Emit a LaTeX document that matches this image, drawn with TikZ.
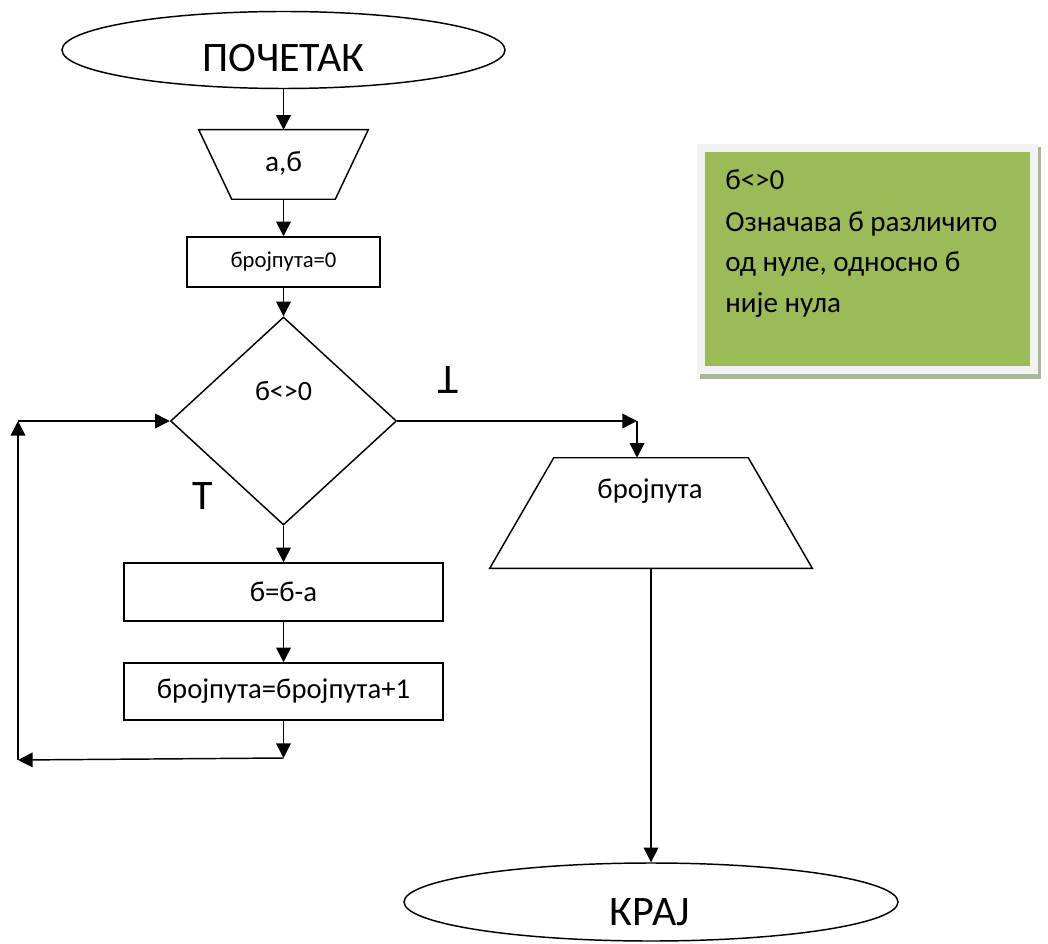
\documentclass[tikz,border=0pt]{standalone}
\usepackage{fontspec}
\setmainfont{Carlito}
\usetikzlibrary{shapes.geometric,arrows.meta,calc}
\definecolor{notegreen}{RGB}{155,187,89}
\definecolor{noteframe}{RGB}{242,242,242}
\definecolor{noteshadow}{RGB}{170,182,152}
\begin{document}
\begin{tikzpicture}[x=0.75pt,y=-0.75pt,
  outline/.style={draw=black, line width=1.1pt},
  arr/.style={line width=1.1pt, -{Triangle[length=11pt,width=11pt]}},
  term/.style={ellipse, outline, inner sep=0pt},
  procbox/.style={rectangle, outline, inner sep=0pt},
  decision/.style={diamond, outline, inner sep=0pt},
  frame/.style={rectangle, inner sep=0pt},
  bigtxt/.style={inner sep=0pt, font=\fontsize{31.5pt}{36pt}\selectfont},
  midtxt/.style={inner sep=0pt, font=\fontsize{21.5pt}{26pt}\selectfont},
  smalltxt/.style={inner sep=0pt, font=\fontsize{17pt}{20pt}\selectfont},
  notetxt/.style={inner sep=0pt, anchor=base west, font=\fontsize{21.8pt}{26pt}\selectfont}]
\useasboundingbox (0,0) rectangle (1048,944);

% explanatory note
\fill[noteshadow] (700,147) rectangle (1041,379);
\fill[noteframe] (697,144) rectangle (1038,374);
\fill[notegreen] (705,152) rectangle (1030,366);
\node[notetxt] (note1) at (725,190) {б<>0};
\node[notetxt] (note2) at (725,232) {Означава б различито};
\node[notetxt] (note3) at (725,272) {од нуле, односно б};
\node[notetxt] (note4) at (725,313) {није нула};

% start
\node[term, minimum width=332.25pt, minimum height=57.75pt] (start) at (283.5,50) {};
\node[bigtxt, anchor=base] (startlbl) at (283.5,72) {ПОЧЕТАК};

% input
\node[frame, minimum width=126.75pt, minimum height=51.75pt] (in) at (283.5,164.5) {};
\draw[outline] (in.north west) -- (in.north east) -- ([xshift=-24.75pt]in.south east)
  -- ([xshift=24.75pt]in.south west) -- cycle;
\node[inner sep=0pt, anchor=base, font=\fontsize{22pt}{26pt}\selectfont] (inlbl) at (283.5,172) {а,б};

% counter init
\node[procbox, smalltxt, minimum width=144.75pt, minimum height=37.5pt] (init) at (283.5,262) {бројпута=0};

% condition
\node[decision, minimum width=169.5pt, minimum height=156pt] (test) at (283.5,421) {};
\node[inner sep=0pt, anchor=base, font=\fontsize{21pt}{25pt}\selectfont] (testlbl) at (283.5,401) {б<>0};
\node[bigtxt, anchor=base] (yes) at (203,509) {Т};
\node[bigtxt] (no) at (448.5,380) {\rotatebox{180}{Т}};

% loop body
\node[procbox, midtxt, minimum width=239.25pt, minimum height=43.5pt] (dec) at (283.5,592) {б=б-а};
\node[procbox, midtxt, minimum width=239.25pt, minimum height=42.75pt] (inc) at (283.5,691.5) {бројпута=бројпута+1};

% output
\node[frame, minimum width=241.5pt, minimum height=82.5pt] (out) at (651,513) {};
\draw[outline] (out.south west) -- (out.south east) -- ([xshift=-48pt]out.north east)
  -- ([xshift=48pt]out.north west) -- cycle;
\node[midtxt, anchor=base] (outlbl) at (650,498) {бројпута};

% end
\node[term, minimum width=370.5pt, minimum height=58.5pt] (end) at (651,902) {};
\node[bigtxt, anchor=base] (endlbl) at (650,925) {КРАЈ};

% bends
\coordinate (c1) at (637,421);
\coordinate (c2) at (283.5,758);
\coordinate (c3) at (18,760);
\coordinate (c4) at (18,421);

% connectors
\draw[arr] (start.south) -- (in.north);
\draw[arr] (in.south) -- (init.north);
\draw[arr] (init.south) -- (test.north);
\draw[arr] (test.south) -- (dec.north);
\draw[arr] (dec.south) -- (inc.north);
\draw[arr] (inc.south) -- (c2);
\draw[arr] (c2) -- (c3);
\draw[arr] (c3) -- (c4);
\draw[arr] (c4) -- (test.west);
\draw[arr] (test.east) -- (c1);
\draw[arr] (c1) -- (c1 |- out.north);
\draw[arr] (out.south) -- (end.north);
\end{tikzpicture}
\end{document}
